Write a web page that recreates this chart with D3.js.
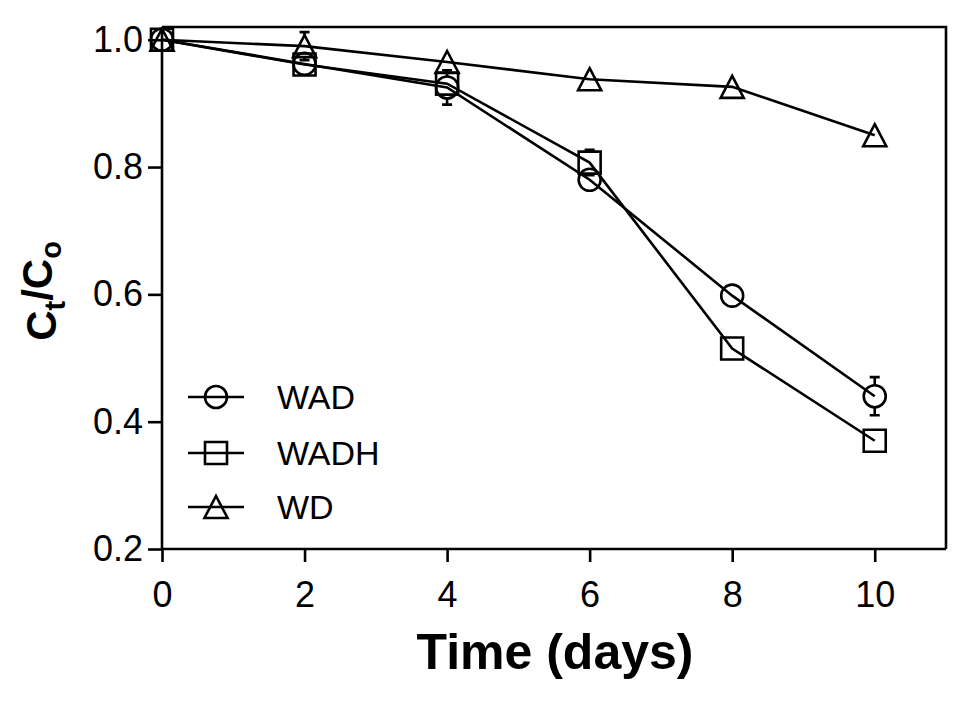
<!DOCTYPE html>
<html>
<head>
<meta charset="utf-8">
<script src="https://cdn.jsdelivr.net/npm/d3@7"></script>
<style>
  html, body { margin: 0; padding: 0; background: #fff; }
  svg { display: block; font-family: "Liberation Sans", Arial, sans-serif; }
</style>
</head>
<body>
<svg id="chart" width="974" height="707"></svg>
<script>
// ---- data ----
const days = [0, 2, 4, 6, 8, 10];
const wadValues  = [1.0, 0.962, 0.925, 0.780, 0.598, 0.440];
const wadErrors  = [0, 0.005, 0.027, 0.005, 0.005, 0.030];
const wadhValues = [1.0, 0.961, 0.931, 0.807, 0.515, 0.370];
const wadhErrors = [0, 0.005, 0.010, 0.020, 0.005, 0.005];
const wdValues   = [1.0, 0.990, 0.965, 0.938, 0.926, 0.850];
const wdErrors   = [0, 0.022, 0.005, 0.005, 0.005, 0.005];
const seriesNames = ["WAD", "WADH", "WD"];
const seriesShapes = ["circle", "square", "triangle"];
const xTicks = [0, 2, 4, 6, 8, 10];
const yTicks = [0.2, 0.4, 0.6, 0.8, 1.0];

const series = [
  { name: seriesNames[0], shape: seriesShapes[0], values: wadValues, errors: wadErrors },
  { name: seriesNames[1], shape: seriesShapes[1], values: wadhValues, errors: wadhErrors },
  { name: seriesNames[2], shape: seriesShapes[2], values: wdValues, errors: wdErrors }
];

const svg = d3.select("#chart");
const L = 162, R = 946, T = 27, B = 549;
const x = d3.scaleLinear().domain([0, 11]).range([L, R]);
const y = d3.scaleLinear().domain([0.2, 1.02]).range([B, T]);
const SW = 2.6;
const MR = 11; // marker half-size

// frame (top and right)
svg.append("path")
  .attr("d", `M${L},${T}H${R}V${B}`)
  .attr("fill", "none").attr("stroke", "#000").attr("stroke-width", SW);

// axes
const xAxis = d3.axisBottom(x).tickValues(xTicks).tickFormat(d3.format("d"))
  .tickSize(13).tickPadding(10).tickSizeOuter(0);
const gx = svg.append("g").attr("transform", `translate(0,${B})`).call(xAxis);
const yAxis = d3.axisLeft(y).tickValues(yTicks).tickFormat(d3.format(".1f"))
  .tickSize(14).tickPadding(5).tickSizeOuter(0);
const gy = svg.append("g").attr("transform", `translate(${L},0)`).call(yAxis);
[gx, gy].forEach(g => {
  g.select(".domain").attr("stroke-width", SW);
  g.selectAll(".tick line").attr("stroke-width", SW);
  g.selectAll(".tick text").attr("font-size", 36).attr("fill", "#000")
    .attr("font-family", "'Liberation Sans', Arial, sans-serif");
});
gx.selectAll(".domain").attr("d", `M${L},0H${R}`);
gy.selectAll(".domain").attr("d", `M0,${B}V${T}`);
gx.selectAll(".tick text").attr("dy", "0").attr("y", 58);

// marker path generator
function markerPath(shape, cx, cy, r) {
  if (shape === "circle") {
    return `M${cx - r},${cy}A${r},${r} 0 1,0 ${cx + r},${cy}A${r},${r} 0 1,0 ${cx - r},${cy}Z`;
  } else if (shape === "square") {
    return `M${cx - r},${cy - r}H${cx + r}V${cy + r}H${cx - r}Z`;
  } else {
    const w = r * 1.05;
    return `M${cx},${cy - r}L${cx + w},${cy + r}H${cx - w}Z`;
  }
}

const line = d3.line().x(d => x(d[0])).y(d => y(d[1]));

series.forEach(s => {
  const pts = days.map((d, i) => [d, s.values[i], s.errors[i]]);
  const g = svg.append("g");
  g.append("path").attr("d", line(pts))
    .attr("fill", "none").attr("stroke", "#000").attr("stroke-width", SW);
  // error bars (only parts outside the marker)
  pts.forEach(p => {
    const cx = x(p[0]), cy = y(p[1]);
    const top = y(p[1] + p[2]), bot = y(p[1] - p[2]);
    if (cy - top > MR) {
      g.append("path").attr("d", `M${cx},${cy - MR}V${top}M${cx - 5},${top}H${cx + 5}`)
        .attr("fill", "none").attr("stroke", "#000").attr("stroke-width", SW);
    }
    if (bot - cy > MR) {
      g.append("path").attr("d", `M${cx},${cy + MR}V${bot}M${cx - 5},${bot}H${cx + 5}`)
        .attr("fill", "none").attr("stroke", "#000").attr("stroke-width", SW);
    }
  });
  g.selectAll("path.mk").data(pts).enter().append("path").attr("class", "mk")
    .attr("d", p => markerPath(s.shape, x(p[0]), y(p[1]), MR))
    .attr("fill", "none").attr("stroke", "#000").attr("stroke-width", SW);
});

// legend
const legendRows = [397, 453, 507];
series.forEach((s, i) => {
  const ly = legendRows[i];
  svg.append("path").attr("d", `M188,${ly}H244`)
    .attr("stroke", "#000").attr("stroke-width", SW);
  svg.append("path").attr("d", markerPath(s.shape, 216, ly, MR))
    .attr("fill", "none").attr("stroke", "#000").attr("stroke-width", SW);
  svg.append("text").attr("x", 277).attr("y", ly).attr("dy", "0.36em")
    .attr("font-size", 34).text(s.name);
});

// axis titles
svg.append("text").attr("x", 555).attr("y", 669).attr("text-anchor", "middle")
  .attr("font-size", 50).attr("font-weight", "bold").text("Time (days)");

const yl = svg.append("text").attr("transform", "translate(56,291) rotate(-90)")
  .attr("text-anchor", "middle").attr("font-size", 42).attr("font-weight", "bold");
yl.append("tspan").text("C");
yl.append("tspan").attr("font-size", 29).attr("dy", "0.3em").text("t");
yl.append("tspan").attr("dy", "-0.3em").text("/C");
yl.append("tspan").attr("font-size", 29).attr("dy", "0.3em").text("o");
</script>
</body>
</html>
